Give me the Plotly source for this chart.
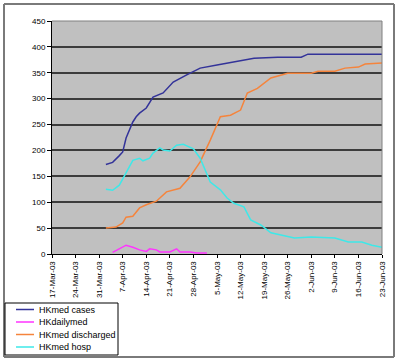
import plotly.graph_objects as go

# ---- data ----
cases_dates = ["2003-04-02","2003-04-04","2003-04-06","2003-04-07","2003-04-08","2003-04-09",
               "2003-04-10","2003-04-11","2003-04-12","2003-04-14","2003-04-16","2003-04-19",
               "2003-04-22","2003-04-26","2003-04-30","2003-05-05","2003-05-10","2003-05-16",
               "2003-05-23","2003-05-30","2003-06-01","2003-06-23"]
cases_vals = [173,177,190,197,224,240,255,265,272,282,303,311,332,346,359,365,371,378,380,380,386,386]

daily_dates = ["2003-04-02","2003-04-03","2003-04-04","2003-04-06","2003-04-08","2003-04-10",
               "2003-04-12","2003-04-14","2003-04-15","2003-04-17","2003-04-18","2003-04-21",
               "2003-04-23","2003-04-24","2003-04-27","2003-04-29","2003-05-02","2003-05-03",
               "2003-05-30","2003-05-31"]
daily_vals = [7,None,3,10,17,13,8,5,10,8,4,4,10,4,4,2,2,None,2,None]

disch_dates = ["2003-04-02","2003-04-05","2003-04-07","2003-04-08","2003-04-10","2003-04-12",
               "2003-04-14","2003-04-17","2003-04-20","2003-04-24","2003-04-27","2003-04-30",
               "2003-05-03","2003-05-06","2003-05-09","2003-05-12","2003-05-14","2003-05-17",
               "2003-05-21","2003-05-26","2003-06-02","2003-06-04","2003-06-09","2003-06-12",
               "2003-06-16","2003-06-18","2003-06-23"]
disch_vals = [50,52,60,71,73,89,95,102,120,127,149,178,220,265,268,278,311,320,340,349,349,
              353,353,359,361,367,369]

hosp_dates = ["2003-04-02","2003-04-04","2003-04-06","2003-04-08","2003-04-10","2003-04-12",
              "2003-04-13","2003-04-15","2003-04-16","2003-04-18","2003-04-19","2003-04-21",
              "2003-04-23","2003-04-25","2003-04-27","2003-04-28","2003-04-30","2003-05-03",
              "2003-05-06","2003-05-08","2003-05-10","2003-05-13","2003-05-15","2003-05-18",
              "2003-05-21","2003-05-25","2003-05-28","2003-06-02","2003-06-09","2003-06-13",
              "2003-06-17","2003-06-20","2003-06-23"]
hosp_vals = [125,123,133,156,181,185,180,185,195,205,201,199,210,212,207,203,185,139,124,108,
             98,91,66,56,41,35,31,33,31,23,23,17,13]

names = ["HKmed cases", "HKdailymed", "HKmed discharged", "HKmed hosp"]
colors = ["#333399", "#ff33ff", "#f5843c", "#3ee8e8"]

tick_dates = ["2003-03-17","2003-03-24","2003-03-31","2003-04-07","2003-04-14","2003-04-21",
              "2003-04-28","2003-05-05","2003-05-12","2003-05-19","2003-05-26","2003-06-02",
              "2003-06-09","2003-06-16","2003-06-23"]
tick_labels = ["17-Mar-03","24-Mar-03","31-Mar-03","7-Apr-03","14-Apr-03","21-Apr-03",
               "28-Apr-03","5-May-03","12-May-03","19-May-03","26-May-03","2-Jun-03",
               "9-Jun-03","16-Jun-03","23-Jun-03"]
y_ticks = [0, 50, 100, 150, 200, 250, 300, 350, 400, 450]

# ---- figure ----
W, H = 400, 363
L, R, T, B = 52, 382, 21, 254
font = "Liberation Sans, Arial, sans-serif"

fig = go.Figure()
series = [(cases_dates, cases_vals), (daily_dates, daily_vals),
          (disch_dates, disch_vals), (hosp_dates, hosp_vals)]
for (xs, ys), n, c in zip(series, names, colors):
    fig.add_trace(go.Scatter(x=xs, y=ys, name=n, mode="lines",
                             line=dict(color=c, width=1.5), connectgaps=False,
                             showlegend=False))

def px(x):
    return (x - L) / (R - L)

def py(y):
    return (B - y) / (B - T)

shapes = []
annotations = []
# outer chart border as four lines
bx0, bx1, by0, by1 = 4, 394, 4, 357
border = dict(color="#7a7a7a", width=2)
for (xa, ya, xb, yb) in [(bx0, by0, bx1, by0), (bx1, by0, bx1, by1),
                         (bx0, by1, bx1, by1), (bx0, by0, bx0, by1)]:
    shapes.append(dict(type="line", xref="paper", yref="paper", x0=px(xa), x1=px(xb),
                       y0=py(ya), y1=py(yb), line=border))
# plot area top/right border
shapes.append(dict(type="line", xref="paper", yref="paper", x0=0, x1=1, y0=1, y1=1,
                   line=dict(color="#808080", width=1)))
shapes.append(dict(type="line", xref="paper", yref="paper", x0=1, x1=1, y0=0, y1=1,
                   line=dict(color="#808080", width=1)))
# manual legend box
shapes.append(dict(type="rect", xref="paper", yref="paper", x0=px(5), x1=px(118),
                   y0=py(355), y1=py(303), line=dict(color="#000000", width=1),
                   fillcolor="white"))
rows = [309.5, 322, 334.5, 347]
for n, c, ry in zip(names, colors, rows):
    shapes.append(dict(type="line", xref="paper", yref="paper", x0=px(16), x1=px(34),
                       y0=py(ry), y1=py(ry), line=dict(color=c, width=1.5)))
    annotations.append(dict(xref="paper", yref="paper", x=px(37), y=py(ry), text=n,
                            showarrow=False, xanchor="left", yanchor="middle",
                            font=dict(family=font, size=9, color="black")))

fig.update_layout(
    width=W, height=H,
    margin=dict(l=L, r=W - R, t=T, b=H - B),
    paper_bgcolor="white", plot_bgcolor="#c0c0c0",
    font=dict(family=font, size=8, color="black"),
    shapes=shapes, annotations=annotations, showlegend=False,
)
fig.update_xaxes(type="date", range=["2003-03-17", "2003-06-23"],
                 tickmode="array", tickvals=tick_dates, ticktext=tick_labels,
                 tickangle=-90, tickfont=dict(size=8), showgrid=False,
                 showline=True, linecolor="black", linewidth=1,
                 ticks="outside", ticklen=3, tickcolor="black", zeroline=False)
fig.update_yaxes(range=[0, 450], tickvals=y_ticks, tickfont=dict(size=8),
                 showgrid=True, gridcolor="#3c3c3c", gridwidth=1.5,
                 showline=True, linecolor="black", linewidth=1,
                 ticks="outside", ticklen=4, tickcolor="black", zeroline=False)

fig.write_html("out.html", config={"displayModeBar": False},
               post_script="document.body.style.margin='0';document.body.style.overflow='hidden';")
